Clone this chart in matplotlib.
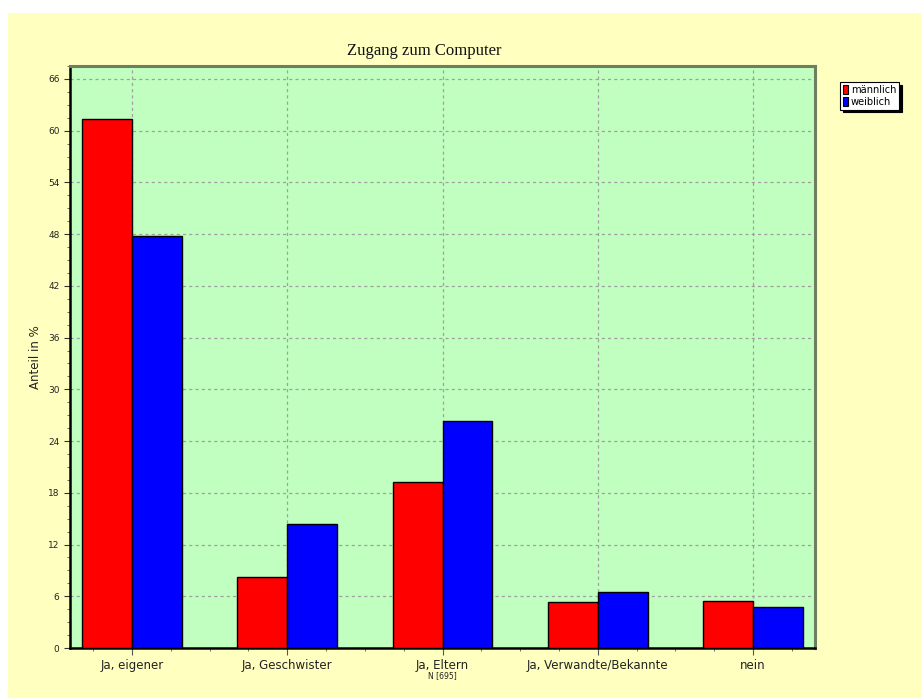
import matplotlib
matplotlib.use("Agg")
import matplotlib.pyplot as plt
import numpy as np
from matplotlib.patches import Rectangle, Patch
from matplotlib.ticker import MultipleLocator

categories = ["Ja, eigener", "Ja, Geschwister", "Ja, Eltern", "Ja, Verwandte/Bekannte", "nein"]
maennlich = [61.4, 8.2, 19.3, 5.3, 5.5]
weiblich = [47.8, 14.4, 26.3, 6.5, 4.8]
series_names = ["männlich", "weiblich"]
yticks = list(range(0, 67, 6))

fig = plt.figure(figsize=(9.21, 6.98), dpi=100, facecolor="white")
fig.patches.append(Rectangle((8/921, 0), 1, (698-13)/698, transform=fig.transFigure,
                             facecolor="#FFFFC0", edgecolor="none", zorder=-10))

ax = fig.add_axes([70/921, (698-648)/698, (815-70)/921, (648-66)/698])
ax.set_facecolor("#C0FFC0")

x = np.arange(len(categories))
w = 0.322
ax.bar(x - w/2, maennlich, w, color="#FF0000", edgecolor="black", linewidth=1.0, zorder=3)
ax.bar(x + w/2, weiblich, w, color="#0000FF", edgecolor="black", linewidth=1.0, zorder=3)

ax.set_xlim(-0.4, len(categories) - 0.6)
ax.set_ylim(0, 67.5)
ax.set_yticks(yticks)
ax.yaxis.set_minor_locator(MultipleLocator(1.5))
ax.set_xticks(x)
ax.set_xticklabels(categories, fontsize=8.5, color="#222222")
ax.xaxis.set_minor_locator(MultipleLocator(0.25))
ax.tick_params(axis="y", which="major", labelsize=6.5, length=4, width=0.8, direction="out", colors="#333333")
ax.tick_params(axis="y", which="minor", length=2.5, width=0.6, direction="out", colors="#555555")
ax.tick_params(axis="x", which="major", length=5, width=0.8, direction="out", colors="#555555", pad=3)
ax.tick_params(axis="x", which="minor", length=2.5, width=0.6, direction="out", colors="#555555")
for lbl in ax.get_xticklabels():
    lbl.set_color("#222222")
for lbl in ax.get_yticklabels():
    lbl.set_color("#222222")

ax.grid(True, which="major", axis="both", color="#A0A0A0", linestyle=(0, (2.5, 2.5)), linewidth=0.9, zorder=1)
ax.set_axisbelow(True)

ax.spines["left"].set_color("black")
ax.spines["left"].set_linewidth(1.8)
ax.spines["bottom"].set_color("black")
ax.spines["bottom"].set_linewidth(1.8)
ax.spines["top"].set_color("#6E7E60")
ax.spines["top"].set_linewidth(2.2)
ax.spines["right"].set_color("#6E7E60")
ax.spines["right"].set_linewidth(2.2)

ax.set_ylabel("Anteil in %", fontsize=8.5, color="#222222", labelpad=0)
ax.yaxis.set_label_coords(-0.038, 0.5)
fig.text(424/921, 1 - 51/698, "Zugang zum Computer", ha="center", va="center",
         fontsize=12, family="Liberation Serif", color="#111111")

ax.text(2, -0.04, "N [695]", transform=ax.get_xaxis_transform(), ha="center", va="top",
        fontsize=5.5, color="#222222")

handles = [Patch(facecolor="#FF0000", edgecolor="black", linewidth=0.8),
           Patch(facecolor="#0000FF", edgecolor="black", linewidth=0.8)]
leg = fig.legend(handles, series_names, loc="upper left", bbox_to_anchor=(840/921, 1 - 82/698),
                 fontsize=7.1, frameon=True, fancybox=False, shadow={"color": "black", "alpha": 1},
                 handlelength=0.5, handleheight=1.1, handletextpad=0.3, borderpad=0.3,
                 labelspacing=0.15, borderaxespad=0)
leg.get_frame().set_edgecolor("black")
leg.get_frame().set_linewidth(0.8)
leg.get_frame().set_facecolor("white")

fig.savefig("out.png", dpi=100, facecolor=fig.get_facecolor())
